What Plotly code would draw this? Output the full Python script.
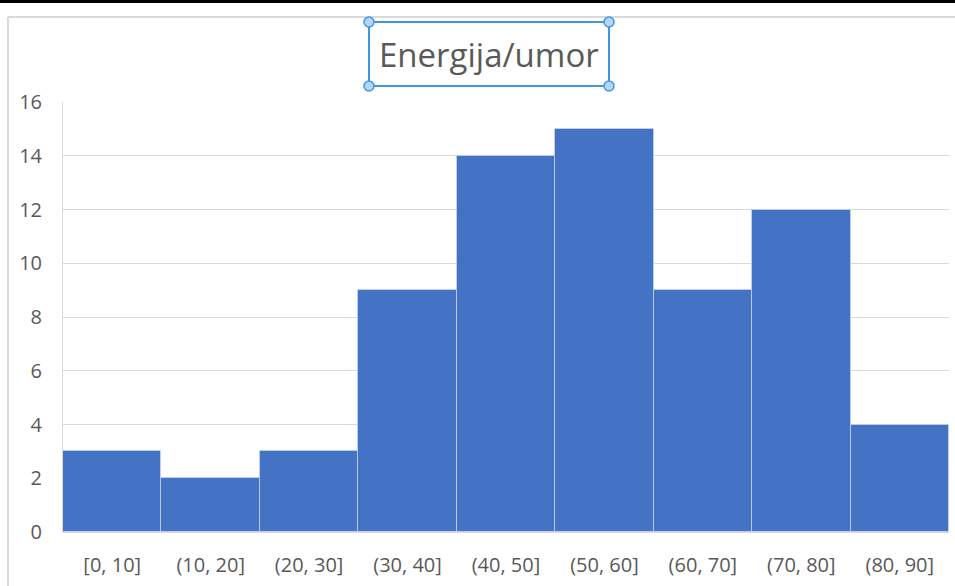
import plotly.graph_objects as go

categories = ["[0, 10]", "(10, 20]", "(20, 30]", "(30, 40]", "(40, 50]",
              "(50, 60]", "(60, 70]", "(70, 80]", "(80, 90]"]
counts = [3, 2, 3, 9, 14, 15, 9, 12, 4]
title_text = "Energija/umor"
y_ticks = [0, 2, 4, 6, 8, 10, 12, 14, 16]

W, H = 955, 586
L, R, T, B = 63, 949, 102, 532

def px(x):
    return (x - L) / (R - L)

def py(y):
    return (B - y) / (B - T)

fig = go.Figure(go.Bar(
    x=categories, y=counts,
    marker=dict(color="#4472C4", line=dict(color="rgba(200,215,240,0.75)", width=1)),
    hoverinfo="x+y",
))

shapes = []
# top black strip
shapes.append(dict(type="rect", xref="paper", yref="paper", x0=px(0), x1=px(W), y0=py(0), y1=py(3),
                   fillcolor="black", line=dict(width=0), layer="above"))
# chart border
shapes.append(dict(type="line", xref="paper", yref="paper", x0=px(8), x1=px(W + 5), y0=py(17), y1=py(17),
                   line=dict(color="#D9D9D9", width=2)))
shapes.append(dict(type="line", xref="paper", yref="paper", x0=px(8), x1=px(8), y0=py(17), y1=py(H + 5),
                   line=dict(color="#D9D9D9", width=2)))
# title selection box
bx0, bx1, by0, by1 = 369, 609, 22, 86
shapes.append(dict(type="rect", xref="paper", yref="paper", x0=px(bx0), x1=px(bx1), y0=py(by0), y1=py(by1),
                   line=dict(color="#3F97E3", width=2), fillcolor="rgba(0,0,0,0)", layer="above"))
r = 5
for cx, cy in [(bx0, by0), (bx1, by0), (bx0, by1), (bx1, by1)]:
    shapes.append(dict(type="circle", xref="paper", yref="paper",
                       x0=px(cx - r), x1=px(cx + r), y0=py(cy - r), y1=py(cy + r),
                       line=dict(color="#3F97E3", width=1.5), fillcolor="#B4D5F5", layer="above"))

fig.update_layout(
    width=W, height=H, autosize=False,
    margin=dict(l=L, r=W - R, t=T, b=H - B, pad=0),
    paper_bgcolor="white", plot_bgcolor="white",
    bargap=0,
    showlegend=False,
    shapes=shapes,
    font=dict(family="Open Sans", color="#595959"),
    annotations=[dict(text=title_text, xref="paper", yref="paper", x=px(489), y=py(55),
                      xanchor="center", yanchor="middle", showarrow=False,
                      font=dict(family="Open Sans", size=33, color="#595959"))],
)
fig.update_xaxes(
    showgrid=False, showline=True, linecolor="#D9D9D9", linewidth=1,
    tickfont=dict(size=20, color="#595959"), ticks="", ticklabelstandoff=15,
    zeroline=False,
)
fig.update_yaxes(
    range=[0, 16], tickvals=y_ticks, showgrid=True, gridcolor="#D9D9D9", gridwidth=1,
    showline=True, linecolor="#D9D9D9", linewidth=1, zeroline=False,
    tickfont=dict(size=20, color="#595959"), ticks="", ticklabelstandoff=16,
)

fig.write_html("out.html", config={"displayModeBar": False},
               post_script="document.body.style.margin='0';document.body.style.overflow='hidden';")
